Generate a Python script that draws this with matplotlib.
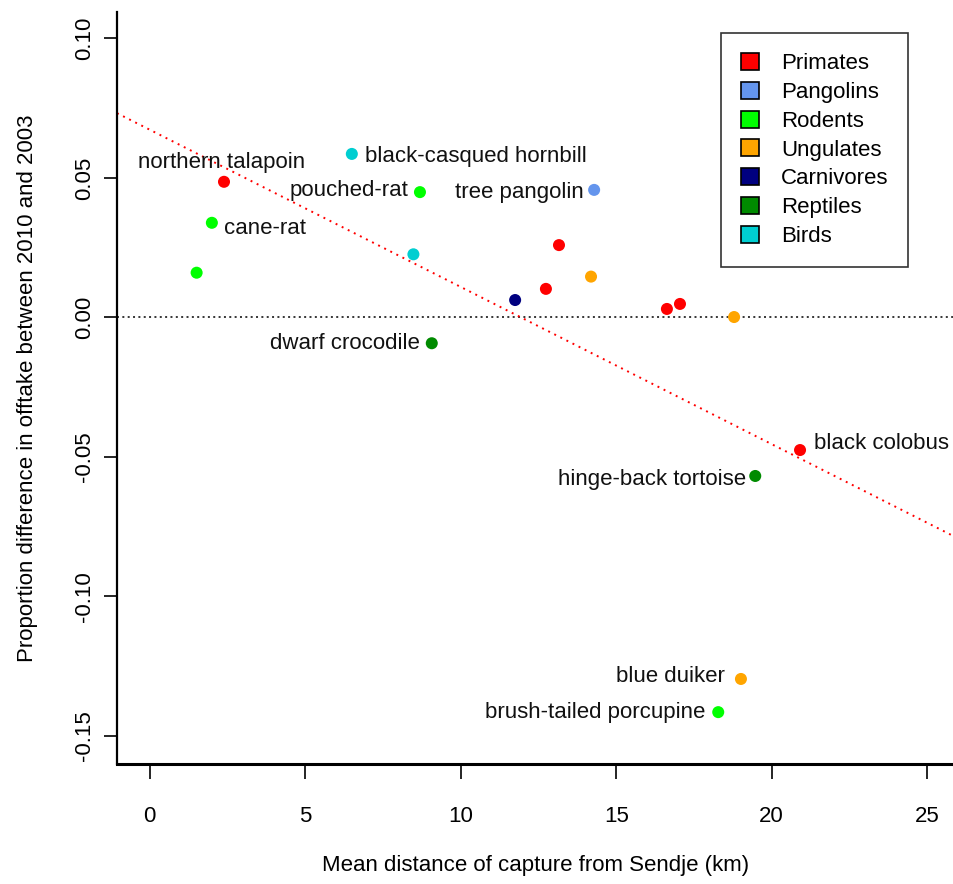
import matplotlib.pyplot as plt
from matplotlib.patches import Patch
import numpy as np

plt.rcParams['font.family'] = ['Liberation Sans', 'DejaVu Sans']

# taxon groups and colours
groups = ['Primates', 'Pangolins', 'Rodents', 'Ungulates', 'Carnivores', 'Reptiles', 'Birds']
group_colors = ['#FF0000', '#6495ED', '#00FF00', '#FFA500', '#000080', '#008B00', '#00CED1']

# species: mean capture distance (km), change in offtake proportion, group, label
distance = [2.39, 2.00, 1.51, 6.50, 8.69, 8.48, 9.07, 11.75, 12.74, 13.16,
            14.19, 14.29, 16.63, 17.05, 18.79, 20.91, 19.47, 19.01, 18.28]
offtake_diff = [0.0486, 0.0339, 0.0160, 0.0586, 0.0449, 0.0226, -0.0093, 0.0062, 0.0102, 0.0259,
                0.0146, 0.0457, 0.0030, 0.0048, 0.0001, -0.0476, -0.0569, -0.1297, -0.1416]
species_group = ['Primates', 'Rodents', 'Rodents', 'Birds', 'Rodents', 'Birds', 'Reptiles',
                 'Carnivores', 'Primates', 'Primates', 'Ungulates', 'Pangolins', 'Primates',
                 'Primates', 'Ungulates', 'Primates', 'Reptiles', 'Ungulates', 'Rodents']
labels = ['northern talapoin', 'cane-rat', '', 'black-casqued hornbill', 'pouched-rat', '',
          'dwarf crocodile', '', '', '', '', 'tree pangolin', '', '', '', 'black colobus',
          'hinge-back tortoise', 'blue duiker', 'brush-tailed porcupine']

# fitted regression line
fit_intercept = 0.0673
fit_slope = -0.00564

# label placement: (dx, dy) in pixels, horizontal alignment
label_pos = {
    'northern talapoin': (-2, 19, 'center'),
    'cane-rat': (12, -6, 'left'),
    'black-casqued hornbill': (13, -3, 'left'),
    'pouched-rat': (-12, 2, 'right'),
    'dwarf crocodile': (-12, 0, 'right'),
    'tree pangolin': (-10, -3, 'right'),
    'black colobus': (14, 7, 'left'),
    'hinge-back tortoise': (-9, -4, 'right'),
    'blue duiker': (-16, 2, 'right'),
    'brush-tailed porcupine': (-13, 0, 'right'),
}

fig = plt.figure(figsize=(9.54, 8.84), dpi=100)
ax = fig.add_axes([117 / 954, 120 / 884, 837 / 954, 752 / 884])

ax.set_xlim(-1.05, 25.86)
ax.set_ylim(-0.1602, 0.1095)

color_of = dict(zip(groups, group_colors))
cols = [color_of[g] for g in species_group]

ax.axhline(0, color='black', lw=1.1, ls=(0, (1.3, 2.2)), zorder=1)
xs = np.array(ax.get_xlim())
ax.plot(xs, fit_intercept + fit_slope * xs, color='#FF0000', lw=1.4, ls=(0, (1, 2.5)), zorder=1)

ax.scatter(distance, offtake_diff, c=cols, s=75, edgecolors='none', zorder=3)

px = 72 / 100
for x, y, lab in zip(distance, offtake_diff, labels):
    if not lab:
        continue
    dx, dy, ha = label_pos[lab]
    ax.annotate(lab, (x, y), xytext=(dx * px, dy * px), textcoords='offset points',
                ha=ha, va='center', fontsize=16, color='#111111')

ax.spines['top'].set_visible(False)
ax.spines['right'].set_visible(False)
ax.spines['left'].set_linewidth(1.6)
ax.spines['bottom'].set_linewidth(2.2)

ax.set_xticks([0, 5, 10, 15, 20, 25])
ax.set_yticks([-0.15, -0.10, -0.05, 0.00, 0.05, 0.10])
ax.set_yticklabels(['-0.15', '-0.10', '-0.05', '0.00', '0.05', '0.10'], rotation=90, va='center')
ax.tick_params(axis='x', length=11, width=1.2, pad=19, labelsize=16)
ax.tick_params(axis='y', length=9.5, width=1.2, pad=6, labelsize=16)

ax.set_xlabel('Mean distance of capture from Sendje (km)', fontsize=16)
ax.set_ylabel('Proportion difference in offtake between 2010 and 2003', fontsize=16)
ax.xaxis.set_label_coords(0.5, -(866 - 764) / 752)
ax.yaxis.set_label_coords(-(117 - 28) / 837, 0.5)
ax.xaxis.label.set_va('center')
ax.yaxis.label.set_va('center')

handles = [Patch(facecolor=c, edgecolor='black', lw=1.2) for c in group_colors]
leg = ax.legend(handles, groups, loc='upper left', bbox_to_anchor=((721 - 117) / 837, (764 - 33) / 752),
                fontsize=16, frameon=True, fancybox=False, borderpad=0.9, labelspacing=0.34,
                handlelength=0.8, handleheight=0.8, handletextpad=1.0, borderaxespad=0)
leg.get_frame().set_edgecolor('black')
leg.get_frame().set_linewidth(1.2)

fig.savefig('out.png', dpi=100)
